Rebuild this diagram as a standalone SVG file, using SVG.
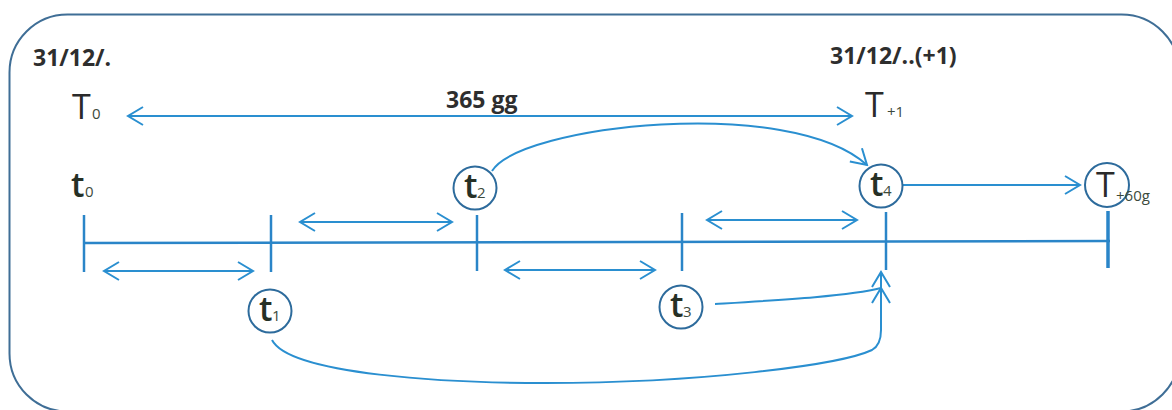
<svg xmlns="http://www.w3.org/2000/svg" width="1172" height="410" viewBox="0 0 1172 410">
<defs>
<style>
.frame{fill:#fff;stroke:#3f6e96;stroke-width:2}
.conn{fill:none;stroke:#2a8fd0;stroke-width:2}
.axis{fill:none;stroke:#2a85c8;stroke-width:2.5}
.node{fill:#fff;stroke:#2d6b9c;stroke-width:2}
.lbl{font-family:"Open Sans","Liberation Sans",sans-serif;font-weight:700;font-size:23px;fill:#2e2e2e}
.big{font-family:"Open Sans","Liberation Sans",sans-serif;font-size:34px;fill:#2a2a2a}
.tt{font-family:"Open Sans","Liberation Sans",sans-serif;font-weight:600;font-size:34px;fill:#263026}
.sub{font-family:"Open Sans","Liberation Sans",sans-serif;font-size:15px;fill:#3c4a3c}
</style>
<marker id="ah" viewBox="0 0 20 20" refX="18" refY="10" markerWidth="20" markerHeight="20" markerUnits="userSpaceOnUse" orient="auto-start-reverse">
<path d="M3,1 L18,10 L3,19" fill="none" stroke="#2a8fd0" stroke-width="2"/>
</marker>
<marker id="up" viewBox="0 0 20 20" refX="18" refY="10" markerWidth="20" markerHeight="20" markerUnits="userSpaceOnUse" orient="270">
<path d="M3,1 L18,10 L3,19" fill="none" stroke="#2a8fd0" stroke-width="2"/>
</marker>
</defs>
<rect class="frame" x="9.5" y="14.5" width="1170" height="397" rx="58" ry="58"/>
<g id="labels">
<text class="lbl" x="33" y="66">31/12/.</text>
<text class="lbl" x="830" y="64">31/12/..(+1)</text>
<text class="lbl" x="446" y="108">365 gg</text>
<text class="big" x="72" y="119">T</text><text class="sub" x="92" y="119">0</text>
<text class="big" x="865" y="117">T</text><text class="sub" x="887" y="117">+1</text>
<text class="tt" x="71" y="197">t</text><text class="sub" x="85" y="197">0</text>
</g>
<g id="axis">
<line class="axis" x1="84" y1="243" x2="1110" y2="241"/>
<line class="axis" x1="84" y1="215" x2="84" y2="272"/>
<line class="axis" x1="271" y1="215" x2="271" y2="272"/>
<line class="axis" x1="477" y1="215" x2="477" y2="271"/>
<line class="axis" x1="682" y1="213" x2="682" y2="271"/>
<line class="axis" x1="886" y1="212" x2="886" y2="270"/>
<line class="axis" x1="1108" y1="211" x2="1108" y2="268" style="stroke-width:3.5"/>
</g>
<g id="connectors">
<line class="conn" x1="128" y1="116" x2="852" y2="116" marker-start="url(#ah)" marker-end="url(#ah)"/>
<line class="conn" x1="104" y1="271" x2="253" y2="271" marker-start="url(#ah)" marker-end="url(#ah)"/>
<line class="conn" x1="300" y1="222" x2="452" y2="222" marker-start="url(#ah)" marker-end="url(#ah)"/>
<line class="conn" x1="505" y1="270" x2="655" y2="270" marker-start="url(#ah)" marker-end="url(#ah)"/>
<line class="conn" x1="707" y1="220" x2="857" y2="220" marker-start="url(#ah)" marker-end="url(#ah)"/>
<path class="conn" d="M492,171 C520,125 790,95 867,165" marker-end="url(#ah)"/>
<line class="conn" x1="903" y1="185" x2="1080" y2="185" marker-end="url(#ah)"/>
<path class="conn" d="M715,304 C780,300 850,296 881,288" marker-end="url(#up)"/>
<path class="conn" d="M272,340 C290,375 450,383 545,383 C700,383 840,365 872,350 Q881,345 881,330 L881,272" marker-end="url(#ah)"/>
</g>
<g id="t1"><circle class="node" cx="270" cy="311" r="21.5"/><text class="tt" x="259" y="321">t</text><text class="sub" x="272" y="321">1</text></g>
<g id="t2"><circle class="node" cx="475" cy="188" r="21.5"/><text class="tt" x="464" y="198">t</text><text class="sub" x="477" y="198">2</text></g>
<g id="t3"><circle class="node" cx="681" cy="307" r="21.5"/><text class="tt" x="670" y="317">t</text><text class="sub" x="683" y="317">3</text></g>
<g id="t4"><circle class="node" cx="881" cy="186" r="21.5"/><text class="tt" x="870" y="196">t</text><text class="sub" x="883" y="196">4</text></g>
<g id="T60"><circle class="node" cx="1107" cy="185" r="22"/><text class="big" x="1096" y="197">T</text><text class="sub" x="1116" y="201">+60g</text></g>
</svg>
